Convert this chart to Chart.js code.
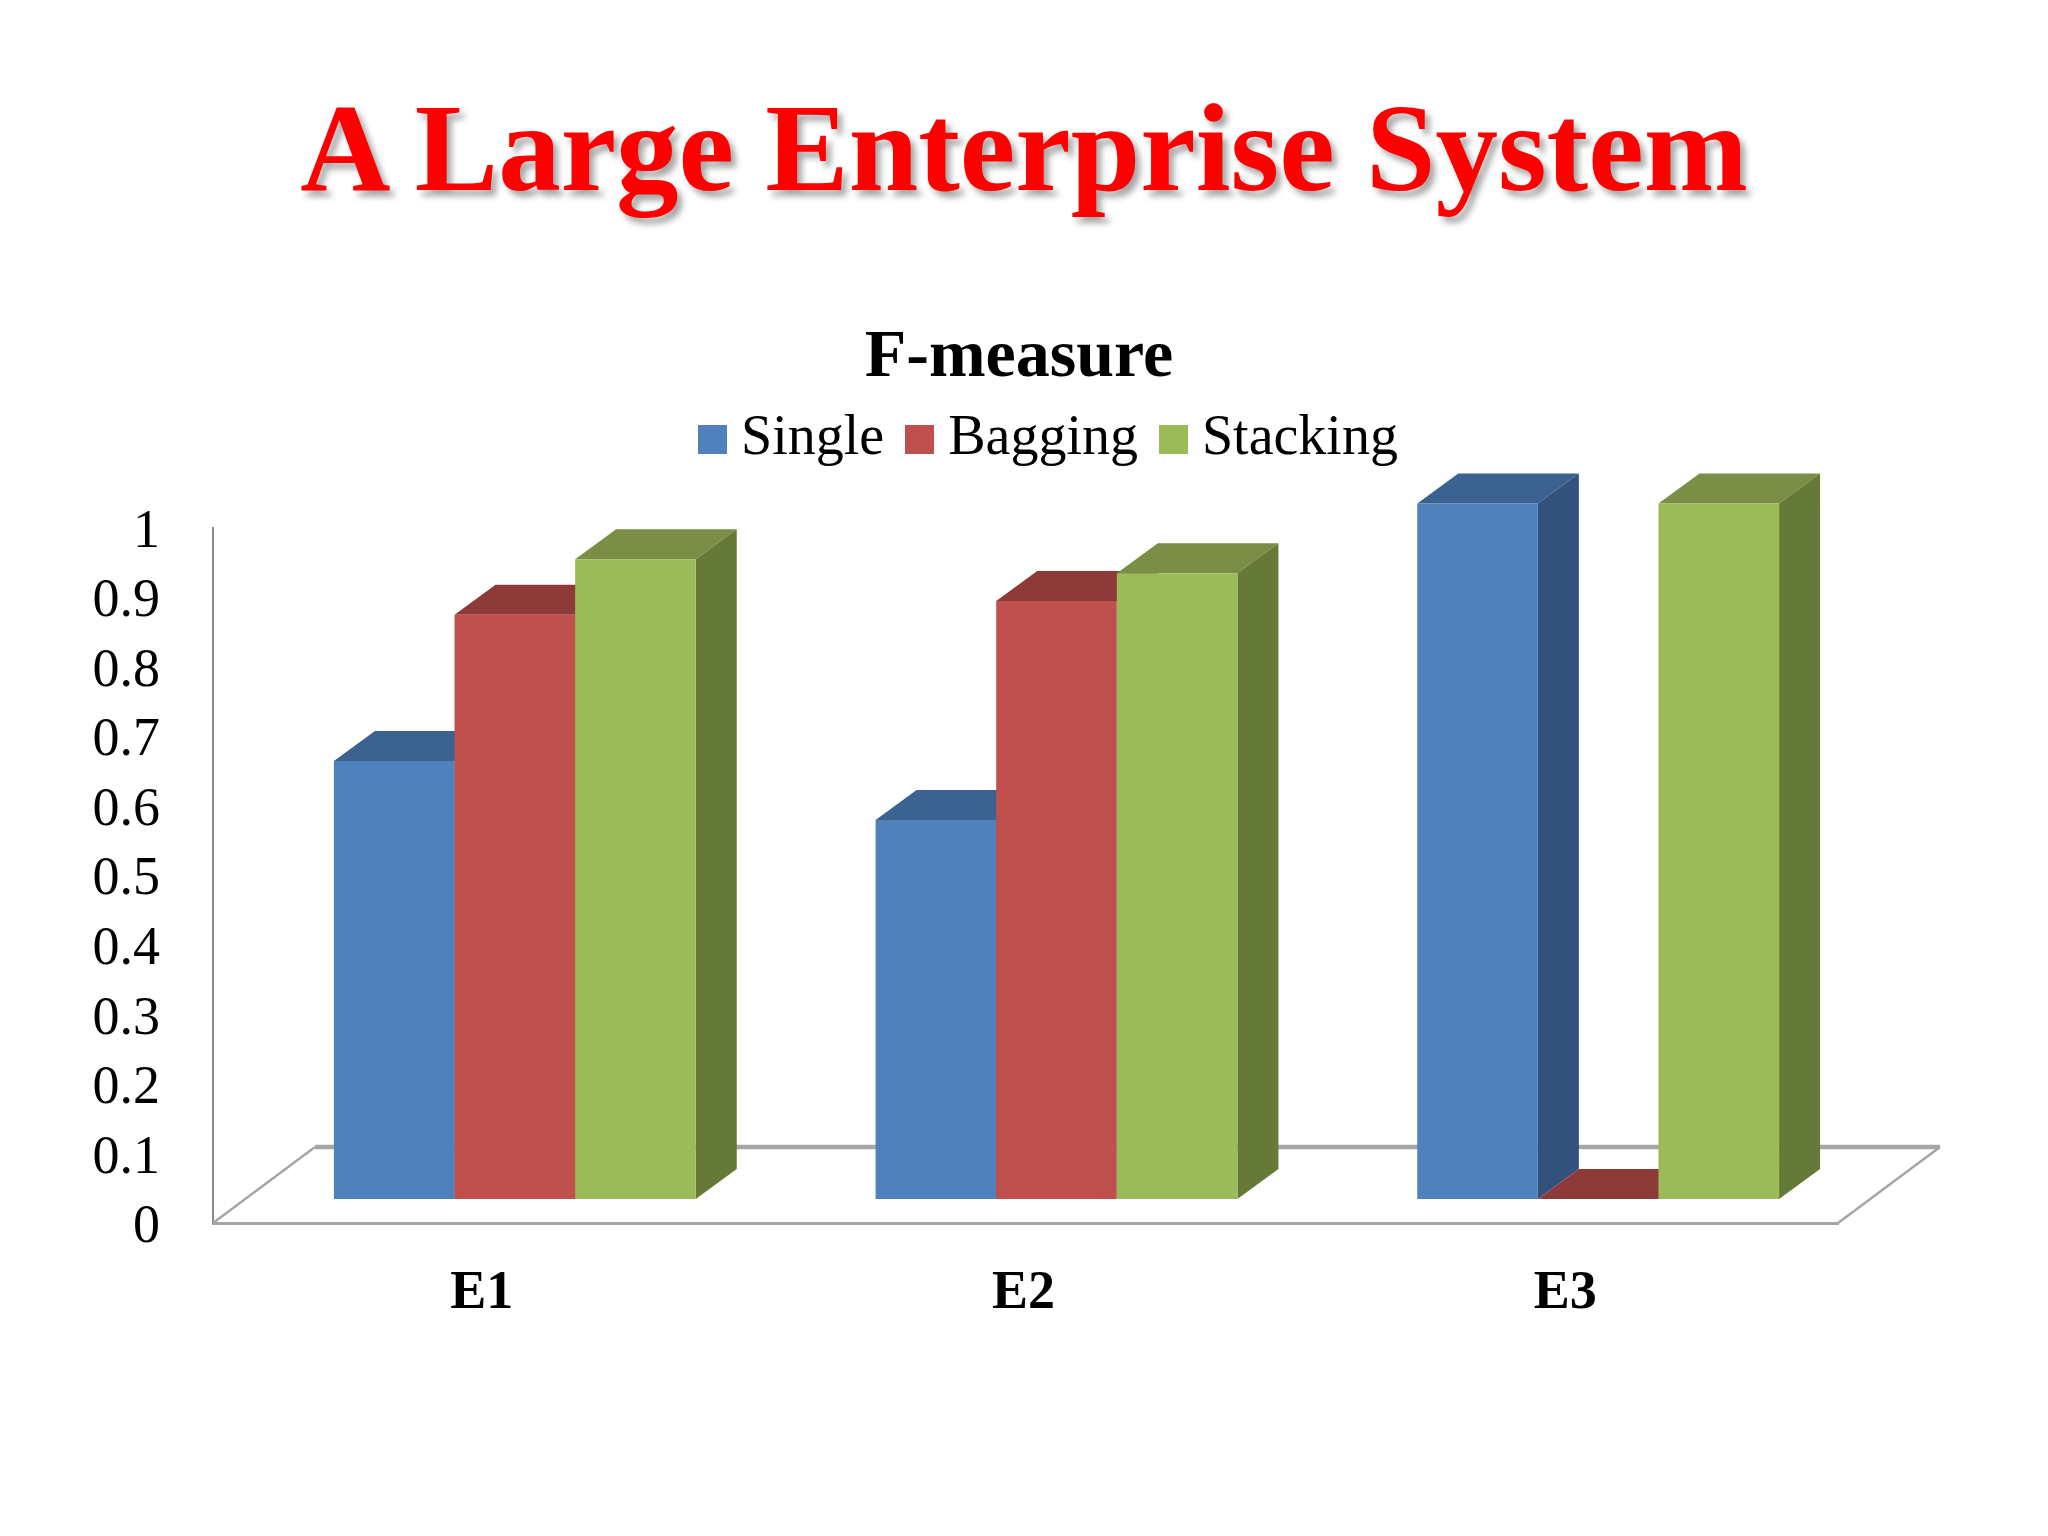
<!DOCTYPE html>
<html>
<head>
<meta charset="utf-8">
<title>A Large Enterprise System</title>
<script src="https://cdn.jsdelivr.net/npm/chart.js@4/dist/chart.umd.min.js"></script>
<style>
  html, body { margin: 0; padding: 0; background: #fff; }
  #wrap { position: relative; width: 2048px; height: 1536px; overflow: hidden; }
  h1 {
    position: absolute; left: 0; top: 77px; width: 2048px; margin: 0;
    text-align: center; color: #ff0000;
    font: bold 125px "Liberation Serif", serif;
    text-shadow: 5px 6px 6px rgba(0, 0, 0, 0.35);
  }
  canvas { position: absolute; left: 0; top: 0; }
</style>
</head>
<body>
<div id="wrap">
  <h1>A Large Enterprise System</h1>
  <canvas id="chart" width="2048" height="1536"></canvas>
</div>
<script>
const categories = ['E1', 'E2', 'E3'];
const yTickLabels = ['0', '0.1', '0.2', '0.3', '0.4', '0.5', '0.6', '0.7', '0.8', '0.9', '1'];

const single = [0.63, 0.545, 1];
const bagging = [0.84, 0.86, 0];
const stacking = [0.92, 0.90, 1];

const frontColors = ['#4f81bd', '#c0504d', '#9bbb59'];
const topColors = ['#3c6291', '#8e3a38', '#7a8f45'];
const sideColors = ['#32527c', '#7f3331', '#657a37'];

// bars sit on the floor, a bit behind the front edge of the axis
const barShiftX = 31, barShiftY = -24;
const depthX = 41, depthY = -30;
const floorX = 102, floorY = -76;
const axisGray = '#a6a6a6';

// small square legend marker; a canvas style lets the text sit closer to it
function legendSquare(color) {
  const c = document.createElement('canvas');
  c.width = 29;
  c.height = 29;
  const g = c.getContext('2d');
  g.fillStyle = color;
  g.fillRect(0, 0, 29, 29);
  return c;
}

const fake3d = {
  id: 'fake3d',
  afterLayout(chart) {
    // title and legend are centred on the page, not on the padded chart
    chart.titleBlock.left += 100;
    chart.titleBlock.right += 100;
    chart.legend.left += 136;
    chart.legend.right += 136;
    chart.legend.top -= 50;
    chart.legend.bottom -= 50;
  },
  beforeDraw(chart) {
    // y labels sit a little lower than the middle baseline puts them
    chart.scales.y.getLabelItems(chart.chartArea).forEach(item => {
      item.textOffset += 5;
    });
    chart.scales.x.getLabelItems(chart.chartArea).forEach(item => {
      item.options.translation[0] -= 2;
    });
  },
  beforeDatasetsDraw(chart) {
    const ctx = chart.ctx;
    const { left, right, bottom } = chart.chartArea;

    // floor
    ctx.save();
    ctx.strokeStyle = axisGray;
    ctx.lineWidth = 2.5;
    ctx.beginPath();
    ctx.moveTo(left, bottom);
    ctx.lineTo(left + floorX, bottom + floorY);
    ctx.moveTo(right, bottom);
    ctx.lineTo(right + floorX, bottom + floorY);
    ctx.stroke();
    ctx.lineWidth = 4.5;
    ctx.beginPath();
    ctx.moveTo(left + floorX, bottom + floorY);
    ctx.lineTo(right + floorX, bottom + floorY);
    ctx.stroke();
    ctx.restore();

    // first series first, so later ones cover its top and side
    chart.data.datasets.forEach((ds, i) => {
      const meta = chart.getDatasetMeta(i);
      ctx.save();
      ctx.translate(barShiftX, barShiftY);
      meta.data.forEach(bar => {
        const x0 = bar.x - bar.width / 2, x1 = bar.x + bar.width / 2;
        ctx.fillStyle = topColors[i];
        ctx.beginPath();
        ctx.moveTo(x0, bar.y);
        ctx.lineTo(x0 + depthX, bar.y + depthY);
        ctx.lineTo(x1 + depthX, bar.y + depthY);
        ctx.lineTo(x1, bar.y);
        ctx.closePath();
        ctx.fill();
        ctx.fillStyle = sideColors[i];
        ctx.beginPath();
        ctx.moveTo(x1, bar.y);
        ctx.lineTo(x1 + depthX, bar.y + depthY);
        ctx.lineTo(x1 + depthX, bar.base + depthY);
        ctx.lineTo(x1, bar.base);
        ctx.closePath();
        ctx.fill();
      });
      meta.controller.draw();
      ctx.restore();
    });
    return false;
  }
};

new Chart(document.getElementById('chart'), {
  type: 'bar',
  data: {
    labels: categories,
    datasets: [
      { label: 'Single', data: single, backgroundColor: frontColors[0], pointStyle: legendSquare(frontColors[0]) },
      { label: 'Bagging', data: bagging, backgroundColor: frontColors[1], pointStyle: legendSquare(frontColors[1]) },
      { label: 'Stacking', data: stacking, backgroundColor: frontColors[2], pointStyle: legendSquare(frontColors[2]) }
    ]
  },
  options: {
    responsive: false,
    animation: false,
    devicePixelRatio: 1,
    layout: { padding: { top: 318, right: 210, left: 0, bottom: 0 } },
    datasets: { bar: { categoryPercentage: 0.668, barPercentage: 1, borderWidth: 0 } },
    plugins: {
      tooltip: { enabled: false },
      title: {
        display: true,
        text: 'F-measure',
        color: '#000',
        font: { family: '"Liberation Serif"', size: 68, weight: 'bold' },
        padding: { top: 0, bottom: 27 }
      },
      legend: {
        position: 'top',
        labels: {
          color: '#000',
          font: { family: '"Liberation Serif"', size: 56 },
          usePointStyle: true,
          pointStyleWidth: 1,
          padding: 35
        }
      }
    },
    scales: {
      x: {
        afterFit(scale) { scale.height = 313; },
        grid: { display: false, drawTicks: false },
        border: { display: true, color: axisGray, width: 3 },
        ticks: {
          color: '#000',
          padding: 39,
          font: { family: '"Liberation Serif"', size: 54, weight: 'bold' }
        }
      },
      y: {
        min: 0,
        max: 1,
        afterFit(scale) { scale.width = 213; },
        grid: { display: false, drawTicks: false },
        border: { display: true, color: '#8c8c8c', width: 2 },
        ticks: {
          stepSize: 0.1,
          autoSkip: false,
          color: '#000',
          padding: 53,
          font: { family: '"Liberation Serif"', size: 54 },
          callback: (value, index) => yTickLabels[index]
        }
      }
    }
  },
  plugins: [fake3d]
});
</script>
</body>
</html>
